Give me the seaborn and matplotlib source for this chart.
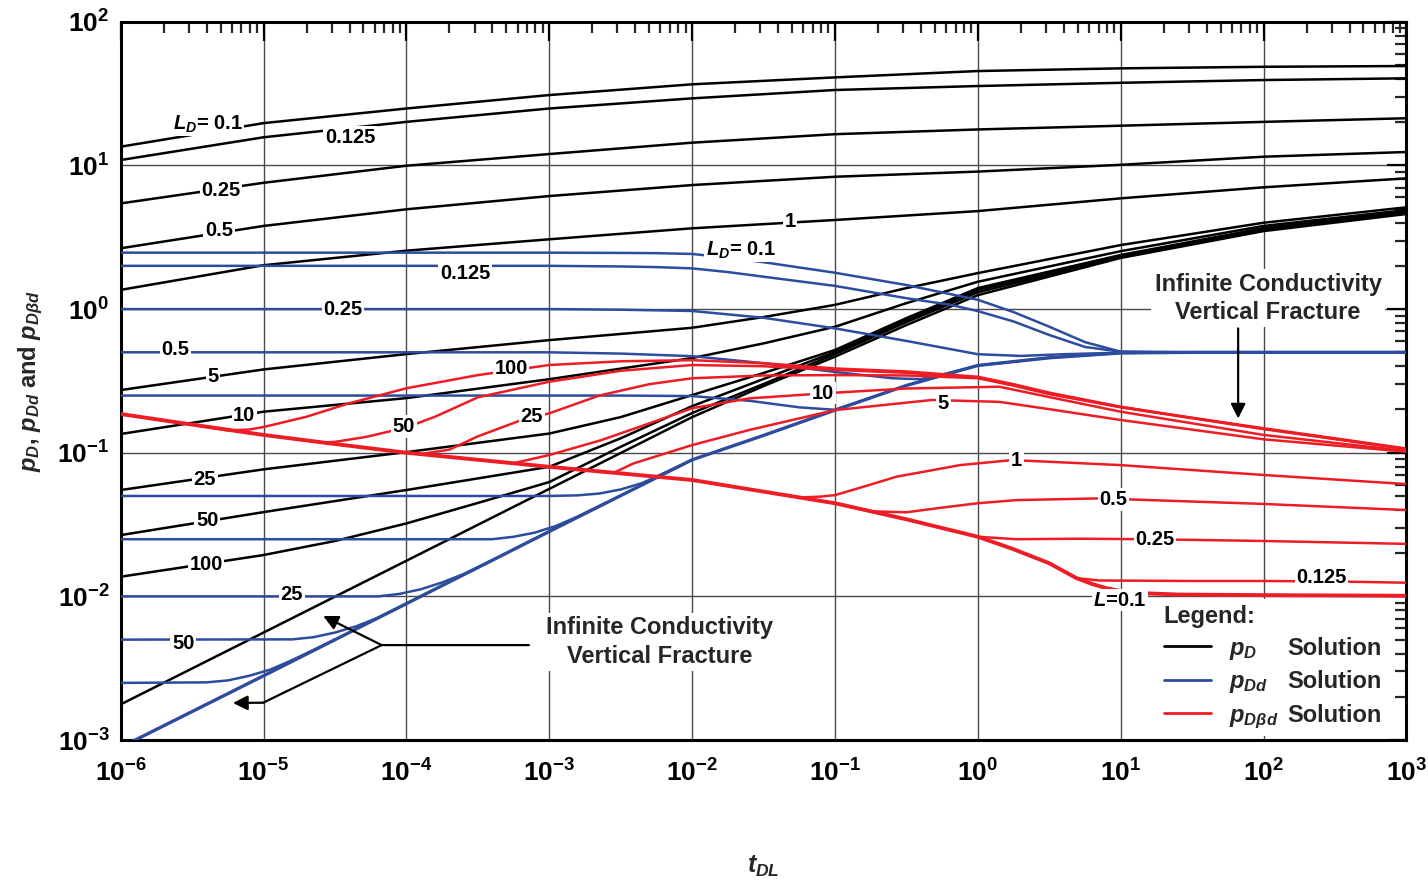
import numpy as np
import pandas as pd
import matplotlib
matplotlib.use("Agg")
import matplotlib.pyplot as plt
import seaborn as sns
from matplotlib.lines import Line2D
from matplotlib.ticker import LogLocator, FuncFormatter, NullFormatter

# ================= DATA (t given as log10 of t_DL) =================
# ---- black: p_D solution ----
LT_A = [-6, -5, -4, -3, -2, -1, 0, 1, 2, 3]
PD_L0_1 = [13.5, 19.7, 24.9, 30.9, 36.7, 41.0, 45.4, 47.4, 48.6, 49.2]
PD_L0_125 = [10.9, 15.7, 20.1, 24.9, 29.3, 33.5, 35.7, 37.6, 39.3, 40.4]
PD_L0_25 = [5.44, 7.57, 9.95, 12.0, 14.4, 16.5, 17.8, 18.9, 20.1, 21.3]
PD_L0_5 = [2.65, 3.79, 4.95, 6.12, 7.30, 8.34, 9.06, 10.1, 11.5, 12.4]
PD_L1 = [1.36, 2.02, 2.55, 3.06, 3.65, 4.17, 4.81, 5.90, 7.04, 8.13]
LT_B = [-6, -5, -4, -3, -2, -1.5, -1, -0.5, 0, 1, 2, 3]
PD_L5 = [0.273, 0.380, 0.486, 0.608, 0.741, 0.88, 1.07, 1.40, 1.78, 2.79, 3.99, 5.11]
PD_L10 = [0.135, 0.193, 0.240, 0.325, 0.456, 0.577, 0.753, 1.10, 1.55, 2.53, 3.79, 4.89]
PD_FRAC = [0.00177, 0.0056, 0.0177, 0.056, 0.177, 0.291, 0.466, 0.774, 1.25, 2.27, 3.49, 4.59]
LT_C = [-6, -5, -4, -3, -2.5, -2, -1.5, -1, -0.5, 0, 1, 2, 3]
PD_L25 = [0.0550, 0.0766, 0.101, 0.136, 0.177, 0.252, 0.359, 0.519, 0.865, 1.40, 2.38, 3.66, 4.81]
PD_L50 = [0.0267, 0.0386, 0.0550, 0.0798, 0.126, 0.211, 0.326, 0.502, 0.839, 1.36, 2.34, 3.61, 4.73]
LT_D = [-6, -5, -4.5, -4, -3.5, -3, -2.5, -2, -1.5, -1, -0.5, 0, 1, 2, 3]
PD_L100 = [0.0137, 0.0194, 0.0243, 0.0322, 0.0447, 0.0625, 0.110, 0.189, 0.301, 0.486, 0.812, 1.31, 2.30, 3.55, 4.66]

# ---- blue: p_Dd solution ----
LT_BL0_1 = [-6, -3, -2.5, -2.25, -2, -1.75, -1.5, -1, -0.5, 0, 0.25, 0.5, 0.75, 1, 1.5, 3]
PDD_L0_1 = [2.47, 2.47, 2.46, 2.45, 2.42, 2.28, 2.12, 1.79, 1.47, 1.16, 0.953, 0.754, 0.589, 0.505, 0.5, 0.5]
LT_BL0_125 = [-6, -3, -2.5, -2.25, -2, -1.75, -1.5, -1, -0.5, -0.19, 0, 0.25, 0.5, 0.75, 1, 1.5, 3]
PDD_L0_125 = [2.0, 2.0, 1.98, 1.96, 1.92, 1.81, 1.68, 1.45, 1.19, 1.07, 0.968, 0.82, 0.66, 0.545, 0.505, 0.5, 0.5]
LT_BL0_25 = [-6, -3, -2.5, -2, -1.5, -1, -0.5, 0, 0.3, 0.6, 1, 1.5, 3]
PDD_L0_25 = [1.0, 1.0, 0.99, 0.97, 0.87, 0.734, 0.60, 0.485, 0.472, 0.485, 0.497, 0.5, 0.5]
LT_BL0_5 = [-6, -3, -2.5, -2, -1.5, -1, -0.6, -0.4, -0.2, 0, 0.5, 1, 1.5, 3]
PDD_L0_5 = [0.5, 0.5, 0.49, 0.47, 0.42, 0.365, 0.33, 0.325, 0.36, 0.405, 0.458, 0.495, 0.5, 0.5]
LT_BL1 = [-6, -2.5, -2, -1.6, -1.25, -1, -0.75]
PDD_L1 = [0.25, 0.25, 0.248, 0.230, 0.207, 0.199, 0.241]
LT_BL5 = [-6, -3, -2.8, -2.65, -2.5, -2.35, -2.2, -2]
PDD_L5 = [0.05, 0.05, 0.0505, 0.052, 0.0555, 0.0615, 0.072, 0.0893]
LT_BL10 = [-6, -3.4, -3.25, -3.1, -2.95, -2.8, -2.6]
PDD_L10 = [0.025, 0.025, 0.026, 0.0278, 0.031, 0.036, 0.045]
LT_BL25 = [-6, -4.2, -4.05, -3.9, -3.75, -3.6, -3.4]
PDD_L25 = [0.01, 0.01, 0.0104, 0.0112, 0.0125, 0.0143, 0.0178]
LT_BL50 = [-6, -4.8, -4.65, -4.5, -4.35, -4.2, -4]
PDD_L50 = [0.005, 0.00502, 0.0052, 0.0056, 0.0062, 0.0071, 0.0089]
LT_BL100 = [-6, -5.4, -5.25, -5.1, -4.95, -4.8, -4.5]
PDD_L100 = [0.0025, 0.00252, 0.0026, 0.0028, 0.0031, 0.0036, 0.0050]
LT_BLF = [-6, -5, -4, -3, -2, -1.5, -1, -0.5, -0.2, 0, 0.5, 1, 1.5, 3]
PDD_FRAC = [0.00089, 0.0028, 0.0089, 0.0283, 0.0893, 0.132, 0.198, 0.294, 0.356, 0.405, 0.458, 0.495, 0.5, 0.5]

# ---- red: p_Dbd solution ----
LT_RBASE = [-6, -5.5, -5, -4.5, -4, -3, -2, -1.5, -1, -0.5, 0, 0.25, 0.5, 0.69, 0.8, 0.9, 1.0, 1.18, 1.4, 2, 3]
PDBD_L0_1 = [0.186, 0.157, 0.133, 0.115, 0.100, 0.0798, 0.0646, 0.0536, 0.0445, 0.0344, 0.026, 0.0213, 0.017, 0.0134, 0.0122, 0.0114, 0.0109, 0.0105, 0.0103, 0.0102, 0.0101]
LT_R100 = [-5.45, -5.25, -5.1, -5, -4.7, -4.4, -4, -3.5, -3, -2.5, -2, -1.5, -1, -0.5, 0, 0.25, 0.5, 1, 1.5, 2, 2.5, 3]
PDBD_L100 = [0.154, 0.143, 0.145, 0.151, 0.178, 0.221, 0.281, 0.347, 0.408, 0.433, 0.441, 0.42, 0.386, 0.368, 0.338, 0.30, 0.262, 0.209, 0.175, 0.148, 0.126, 0.107]
LT_R50 = [-4.6, -4.5, -4.28, -4, -3.8, -3.5, -3, -2.5, -2, -1.5, -1, -0.5, 0, 0.25, 0.5, 1, 2, 3]
PDBD_L50 = [0.118, 0.119, 0.129, 0.150, 0.178, 0.243, 0.312, 0.372, 0.408, 0.40, 0.377, 0.36, 0.333, 0.297, 0.259, 0.208, 0.147, 0.106]
LT_R25 = [-3.9, -3.7, -3.5, -3.2, -3, -2.65, -2.3, -2, -1.5, -1, -0.5, 0, 0.25, 0.5, 1, 2, 3]
PDBD_L25 = [0.098, 0.105, 0.130, 0.168, 0.188, 0.25, 0.30, 0.330, 0.345, 0.347, 0.345, 0.330, 0.293, 0.256, 0.207, 0.146, 0.106]
LT_R10 = [-3.25, -3, -2.64, -2.3, -2, -1.6, -1.08, -0.5, 0.15, 0.5, 1, 2, 3]
PDBD_L10 = [0.0845, 0.0964, 0.122, 0.16, 0.204, 0.239, 0.259, 0.28, 0.288, 0.244, 0.193, 0.133, 0.103]
LT_R5 = [-2.55, -2.41, -2, -1.6, -1, -0.32, 0.15, 0.5, 1, 2, 3]
PDBD_L5 = [0.0724, 0.0843, 0.113, 0.144, 0.198, 0.233, 0.226, 0.201, 0.169, 0.124, 0.1016]
LT_R1 = [-1.25, -1.1, -1, -0.8, -0.57, -0.125, 0.24, 0.5, 1, 2, 3]
PDBD_L1 = [0.0488, 0.0495, 0.0507, 0.058, 0.0681, 0.082, 0.0889, 0.0865, 0.082, 0.070, 0.0605]
LT_R0_5 = [-0.75, -0.5, -0.25, 0, 0.27, 0.85, 2, 3]
PDBD_L0_5 = [0.0391, 0.0385, 0.0415, 0.0445, 0.0468, 0.0481, 0.044, 0.0399]
LT_R0_25 = [0, 0.27, 0.7, 1.2, 2, 3]
PDBD_L0_25 = [0.026, 0.025, 0.0252, 0.025, 0.0243, 0.0232]
LT_R0_125 = [0.69, 0.85, 1.5, 2, 2.5, 3]
PDBD_L0_125 = [0.0134, 0.0129, 0.0128, 0.0128, 0.0127, 0.01245]

# ---- curve labels ----
LBL_BLACK = [r"$L_D$= 0.1", "0.125", "0.25", "0.5", "1", "5", "10", "25", "50", "100"]
LBL_BLACK_LT = [-5.389, -4.395, -5.298, -5.311, -1.315, -5.352, -5.135, -5.41, -5.394, -5.403]
LBL_BLACK_P = [19.4, 15.7, 6.73, 3.55, 4.04, 0.338, 0.183, 0.0646, 0.0340, 0.0168]
LBL_BLUE = [r"$L_D$= 0.1", "0.125", "0.25", "0.5", "25", "50"]
LBL_BLUE_LT = [-1.658, -3.590, -4.442, -5.616, -4.801, -5.562]
LBL_BLUE_P = [2.58, 1.78, 0.99, 0.519, 0.0103, 0.00471]
LBL_RED = ["100", "50", "25", "10", "5", "1", "0.5", "0.25", "0.125", r"$L$=0.1"]
LBL_RED_LT = [-3.268, -4.017, -3.123, -1.084, -0.242, 0.271, 0.948, 1.240, 2.406, 0.995]
LBL_RED_P = [0.386, 0.152, 0.180, 0.259, 0.221, 0.0889, 0.0473, 0.0247, 0.0136, 0.00942]

ANNOT_TEXT = "Infinite Conductivity\nVertical Fracture"
X_TICK_EXP = [-6, -5, -4, -3, -2, -1, 0, 1, 2, 3]
Y_TICK_EXP = [-3, -2, -1, 0, 1, 2]

# ================= STYLE =================
sns.set_theme(style="white")
plt.rcParams.update({
    "font.family": ["Liberation Sans", "DejaVu Sans"],
    "font.weight": "bold",
    "mathtext.fontset": "custom",
    "mathtext.rm": "Liberation Sans:bold",
    "mathtext.it": "Liberation Sans:italic:bold",
    "mathtext.bf": "Liberation Sans:bold",
    "axes.unicode_minus": True,
})

BLACK = "#000000"
BLUE = "#2D4C9E"
RED = "#EE1C25"

fig = plt.figure(figsize=(14.28, 8.85), dpi=100)
ax = fig.add_axes([0.0845, 0.1638, 0.9004, 0.8116])
ax.set_xscale("log")
ax.set_yscale("log")


def draw(lt, p, color, lw, z=3):
    sns.lineplot(x=np.power(10.0, np.asarray(lt, float)), y=np.asarray(p, float), ax=ax,
                 color=color, linewidth=lw, estimator=None, sort=False, legend=False,
                 zorder=z)


black_curves = [(LT_A, PD_L0_1), (LT_A, PD_L0_125), (LT_A, PD_L0_25), (LT_A, PD_L0_5),
                (LT_A, PD_L1), (LT_B, PD_L5), (LT_B, PD_L10), (LT_C, PD_L25),
                (LT_C, PD_L50), (LT_D, PD_L100), (LT_B, PD_FRAC)]
blue_curves = [(LT_BL0_1, PDD_L0_1), (LT_BL0_125, PDD_L0_125), (LT_BL0_25, PDD_L0_25),
               (LT_BL0_5, PDD_L0_5), (LT_BL1, PDD_L1), (LT_BL5, PDD_L5), (LT_BL10, PDD_L10),
               (LT_BL25, PDD_L25), (LT_BL50, PDD_L50), (LT_BL100, PDD_L100)]
red_curves = [(LT_R100, PDBD_L100), (LT_R50, PDBD_L50), (LT_R25, PDBD_L25),
              (LT_R10, PDBD_L10), (LT_R5, PDBD_L5), (LT_R1, PDBD_L1), (LT_R0_5, PDBD_L0_5),
              (LT_R0_25, PDBD_L0_25), (LT_R0_125, PDBD_L0_125)]

for lt, p in black_curves:
    draw(lt, p, BLACK, 1.8)
for lt, p in blue_curves:
    draw(lt, p, BLUE, 1.8)
draw(LT_BLF, PDD_FRAC, BLUE, 2.4)
for lt, p in red_curves:
    draw(lt, p, RED, 1.8)
draw(LT_RBASE, PDBD_L0_1, RED, 2.8)

lbl_box = dict(boxstyle="square,pad=0.08", fc="white", ec="none")
for texts, lts, ps in [(LBL_BLACK, LBL_BLACK_LT, LBL_BLACK_P),
                       (LBL_BLUE, LBL_BLUE_LT, LBL_BLUE_P),
                       (LBL_RED, LBL_RED_LT, LBL_RED_P)]:
    for s, lt, p in zip(texts, lts, ps):
        ax.text(10 ** lt, p, s, ha="center", va="center", fontsize=14.5,
                fontweight="bold", color="black", bbox=lbl_box, zorder=6)

# ---- annotations ----
arrow_kw = dict(arrowstyle="-|>", color="black", lw=1.6, mutation_scale=22,
                shrinkA=0, shrinkB=0)
ax.plot([10 ** -3.142, 10 ** -4.173, 10 ** -5.002], [0.00458, 0.00458, 0.00182],
        color="black", lw=1.6, zorder=7)
ax.annotate("", xy=(10 ** -4.582, 0.0073), xytext=(10 ** -4.173, 0.00458),
            arrowprops=arrow_kw, zorder=7)
ax.annotate("", xy=(10 ** -5.214, 0.00181), xytext=(10 ** -5.002, 0.00182),
            arrowprops=arrow_kw, zorder=7)
ax.text(10 ** -2.225, 0.00481, ANNOT_TEXT, ha="center", va="center", fontsize=17,
        fontweight="bold", linespacing=1.3,
        bbox=dict(boxstyle="square,pad=0.15", fc="white", ec="none"), zorder=7)
ax.text(10 ** 2.031, 1.19, ANNOT_TEXT, ha="center", va="center", fontsize=17,
        fontweight="bold", linespacing=1.3,
        bbox=dict(boxstyle="square,pad=0.15", fc="white", ec="none"), zorder=7)
ax.annotate("", xy=(10 ** 1.822, 0.173), xytext=(10 ** 1.822, 0.734),
            arrowprops=arrow_kw, zorder=7)

# ---- axes ----
ax.set_xlim(1e-6, 1e3)
ax.set_ylim(1e-3, 1e2)
ax.set_xticks([10.0 ** e for e in X_TICK_EXP])
ax.set_yticks([10.0 ** e for e in Y_TICK_EXP])
ax.xaxis.set_minor_locator(LogLocator(base=10, subs=np.arange(2, 10), numticks=100))
ax.yaxis.set_minor_locator(LogLocator(base=10, subs=np.arange(2, 10), numticks=100))
fmt = FuncFormatter(lambda v, pos: r"$\mathbf{10^{%d}}$" % int(round(np.log10(v))))
ax.xaxis.set_major_formatter(fmt)
ax.yaxis.set_major_formatter(fmt)
ax.xaxis.set_minor_formatter(NullFormatter())
ax.yaxis.set_minor_formatter(NullFormatter())
ax.tick_params(which="major", direction="in", length=14, width=1.6, top=True,
               right=True, labelsize=19, colors="black")
ax.tick_params(which="minor", direction="in", length=8, width=1.6, top=True, right=True)
ax.tick_params(axis="x", which="major", pad=14)
ax.tick_params(axis="y", which="major", pad=8)
ax.grid(True, which="major", color="#4a4a4a", linewidth=1.0)
ax.set_axisbelow(True)
for s in ax.spines.values():
    s.set_linewidth(2.2)
    s.set_color("black")

ax.set_xlabel(r"$t_{DL}$", fontsize=18, labelpad=48)
ax.set_ylabel(r"$p_D$, $p_{Dd}$ and $p_{D\beta d}$", fontsize=17, fontweight="bold",
              labelpad=9)

# ---- legend ----
handles = [Line2D([], [], color=BLACK, lw=2.0), Line2D([], [], color=BLUE, lw=2.0),
           Line2D([], [], color=RED, lw=2.0)]
labels = [r"$p_D$", r"$p_{Dd}$", r"$p_{D\beta d}$"]
leg = ax.legend(handles, labels, title="Legend:", loc="lower left",
                bbox_to_anchor=(0.804, 0.0), borderaxespad=0.15, fontsize=17,
                title_fontproperties={"size": 17, "weight": "bold"}, alignment="left",
                frameon=True, facecolor="white", edgecolor="none", framealpha=1.0,
                handlelength=2.0, handletextpad=0.75, labelspacing=0.36, borderpad=0.25)
leg.set_zorder(8)

fig.canvas.draw()
inv = fig.transFigure.inverted()
for txt in leg.get_texts():
    xd, yd = txt.get_transform().transform(txt.get_position())
    _, yf = inv.transform((xd, yd))
    fig.text(1287 / 1428, yf, "Solution", ha="left", va="baseline", fontsize=17,
             fontweight="bold", zorder=9)

fig.savefig("out.png", dpi=100)
